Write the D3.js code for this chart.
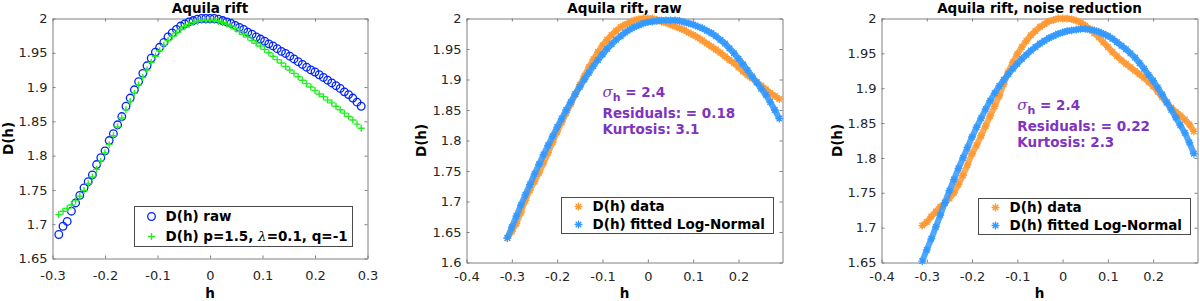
<!DOCTYPE html>
<html lang="en">
<head>
  <meta charset="utf-8">
  <title>Aquila rift D(h)</title>
  <script src="https://d3js.org/d3.v7.min.js"></script>
  <style>
    body { margin: 0; background: #fff; }
    svg text { font-family: "DejaVu Sans", sans-serif; }
    .axis path, .axis line { stroke: #808080; stroke-width: 1; }
    .axis text { font-size: 13px; fill: #262626; font-family: "DejaVu Sans", sans-serif; }
    .title, .axis-title, .legend-text { font-size: 13.5px; font-weight: bold; fill: #000; }
    .note { font-size: 13.5px; font-weight: bold; fill: #8033bf; }
  </style>
</head>
<body>
<script>
// ---------- data ----------
// panel 1 : raw D(h) and model D(h) p=1.5, lambda=0.1, q=-1
var hRaw = [-0.288,-0.28,-0.272,-0.264,-0.256,-0.248,-0.24,-0.232,-0.224,-0.216,-0.208,-0.2,
  -0.192,-0.184,-0.176,-0.168,-0.16,-0.152,-0.144,-0.136,-0.128,-0.12,-0.112,-0.104,
  -0.096,-0.088,-0.08,-0.072,-0.064,-0.056,-0.048,-0.04,-0.032,-0.024,-0.016,-0.008,0,
  0.008,0.016,0.024,0.032,0.04,0.048,0.056,0.064,0.072,0.08,0.088,0.096,0.104,0.112,0.12,
  0.128,0.136,0.144,0.152,0.16,0.168,0.176,0.184,0.192,0.2,0.208,0.216,0.224,0.232,0.24,
  0.248,0.256,0.264,0.272,0.28,0.288];
var dRaw = [1.685,1.697,1.704,1.719,1.731,1.742,1.753,1.762,1.772,1.787,1.797,1.807,
  1.822,1.832,1.845,1.857,1.872,1.884,1.896,1.908,1.920,1.931,1.942,1.951,
  1.958,1.965,1.973,1.979,1.984,1.989,1.992,1.995,1.997,1.999,2.000,2.000,2.000,
  2.000,1.999,1.997,1.995,1.993,1.990,1.987,1.984,1.980,1.977,1.973,1.970,1.967,1.963,1.960,
  1.956,1.952,1.949,1.945,1.941,1.937,1.933,1.929,1.925,1.922,1.918,1.914,1.910,1.906,1.902,
  1.898,1.893,1.889,1.884,1.878,1.872];
var dModel = [1.714,1.719,1.723,1.728,1.734,1.741,1.749,1.759,1.769,1.780,1.792,1.804,
  1.816,1.829,1.842,1.855,1.867,1.879,1.891,1.903,1.914,1.925,1.936,1.945,
  1.953,1.961,1.968,1.974,1.979,1.984,1.988,1.991,1.994,1.996,1.997,1.997,1.997,
  1.997,1.996,1.994,1.992,1.989,1.985,1.981,1.977,1.973,1.968,1.964,1.960,1.955,1.950,1.945,
  1.940,1.935,1.930,1.925,1.920,1.915,1.910,1.905,1.900,1.895,1.890,1.886,1.881,1.877,1.872,
  1.867,1.862,1.857,1.852,1.846,1.840];

// panels 2 and 3 : h grid shared by data and fitted log-normal
var hFit = [-0.31,-0.3,-0.29,-0.28,-0.27,-0.26,-0.25,-0.24,-0.23,-0.22,-0.21,-0.2,-0.19,-0.18,
  -0.17,-0.16,-0.15,-0.14,-0.13,-0.12,-0.11,-0.1,-0.09,-0.08,-0.07,-0.06,-0.05,-0.04,-0.03,
  -0.02,-0.01,0,0.01,0.02,0.03,0.04,0.05,0.06,0.07,0.08,0.09,0.1,0.11,0.12,0.13,0.14,0.15,
  0.16,0.17,0.18,0.19,0.2,0.21,0.22,0.23,0.24,0.25,0.26,0.27,0.28,0.29];
var dDataRaw = [1.640,1.651,1.664,1.682,1.702,1.719,1.733,1.747,1.763,1.780,
  1.797,1.814,1.830,1.845,1.860,1.876,1.891,1.906,1.920,1.933,
  1.945,1.956,1.965,1.973,1.980,1.986,1.990,1.994,1.997,1.999,2.000,
  2.000,2.000,1.998,1.995,1.993,1.990,1.987,1.984,1.981,1.977,
  1.973,1.969,1.964,1.959,1.954,1.949,1.944,1.938,1.932,1.927,
  1.920,1.913,1.907,1.902,1.896,1.890,1.884,1.878,1.873,1.868];
var dFitRaw = [1.640,1.658,1.676,1.694,1.711,1.728,1.745,1.761,1.777,1.792,
  1.807,1.822,1.836,1.850,1.863,1.876,1.888,1.900,1.911,1.922,
  1.932,1.941,1.950,1.958,1.965,1.971,1.977,1.982,1.986,1.989,1.992,
  1.994,1.995,1.996,1.997,1.997,1.997,1.997,1.996,1.994,1.992,
  1.990,1.987,1.984,1.980,1.976,1.971,1.965,1.959,1.951,1.943,
  1.934,1.925,1.915,1.905,1.895,1.885,1.875,1.863,1.850,1.836];
var dDataNR = [1.703,1.708,1.716,1.723,1.730,1.735,1.742,1.750,1.762,1.775,
  1.790,1.806,1.818,1.832,1.846,1.860,1.874,1.889,1.906,1.923,
  1.937,1.949,1.959,1.968,1.976,1.982,1.988,1.992,1.996,1.998,2.000,
  2.000,2.000,1.999,1.997,1.994,1.990,1.985,1.979,1.973,1.966,
  1.959,1.952,1.946,1.940,1.935,1.930,1.925,1.920,1.915,1.909,
  1.903,1.895,1.887,1.879,1.872,1.866,1.861,1.855,1.848,1.838];
var dFitNR = [1.652,1.668,1.684,1.701,1.718,1.736,1.753,1.769,1.785,1.800,
  1.815,1.830,1.844,1.857,1.870,1.882,1.893,1.903,1.912,1.920,
  1.928,1.935,1.942,1.948,1.954,1.959,1.964,1.968,1.972,1.975,1.978,
  1.980,1.982,1.983,1.984,1.985,1.985,1.984,1.983,1.981,1.978,
  1.975,1.971,1.966,1.961,1.956,1.950,1.944,1.936,1.928,1.919,
  1.911,1.901,1.891,1.880,1.869,1.858,1.847,1.836,1.822,1.806];

// ticks
var xTicks1 = [-0.3,-0.2,-0.1,0,0.1,0.2,0.3];
var xLabels1 = ["-0.3","-0.2","-0.1","0","0.1","0.2","0.3"];
var xTicks23 = [-0.4,-0.3,-0.2,-0.1,0,0.1,0.2];
var xLabels23 = ["-0.4","-0.3","-0.2","-0.1","0","0.1","0.2"];
var yTicks165 = [1.65,1.7,1.75,1.8,1.85,1.9,1.95,2];
var yLabels165 = ["1.65","1.7","1.75","1.8","1.85","1.9","1.95","2"];
var yTicks16 = [1.6,1.65,1.7,1.75,1.8,1.85,1.9,1.95,2];
var yLabels16 = ["1.6","1.65","1.7","1.75","1.8","1.85","1.9","1.95","2"];

// fit statistics shown in panels 2 and 3
var statsRaw = {sigma: "2.4", residuals: "0.18", kurtosis: "3.1"};
var statsNR = {sigma: "2.4", residuals: "0.22", kurtosis: "2.3"};

var orange = "#ff9933", skyblue = "#3399ff";

var panels = [
  { title: "Aquila rift", box: [52.5, 18.5, 367.5, 258.5],
    xDomain: [-0.3, 0.3], yDomain: [1.65, 2], xTicks: xTicks1, xLabels: xLabels1,
    yTicks: yTicks165, yLabels: yLabels165, xPad: 12, yLabelX: 8,
    series: [
      { h: hRaw, d: dRaw, marker: "o", color: "#0022ff", name: "D(h) raw" },
      { h: hRaw, d: dModel, marker: "+", color: "#22ee22", name: "model" }
    ],
    legend: [134.5, 206.5, 352.5, 246.5] },
  { title: "Aquila rift, raw", box: [466.5, 18.5, 782.5, 262.5],
    xDomain: [-0.4, 0.297], yDomain: [1.6, 2], xTicks: xTicks23, xLabels: xLabels23,
    yTicks: yTicks16, yLabels: yLabels16, xPad: 9, yLabelX: 421,
    series: [
      { h: hFit, d: dDataRaw, marker: "*", color: orange, name: "D(h) data" },
      { h: hFit, d: dFitRaw, marker: "*", color: skyblue, name: "D(h) fitted Log-Normal" }
    ],
    legend: [561.5, 197.5, 773.5, 233.5], stats: statsRaw },
  { title: "Aquila rift, noise reduction", box: [881.5, 18.5, 1197.5, 262.5],
    xDomain: [-0.4, 0.298], yDomain: [1.65, 2], xTicks: xTicks23, xLabels: xLabels23,
    yTicks: yTicks165, yLabels: yLabels165, xPad: 9, yLabelX: 837,
    series: [
      { h: hFit, d: dDataNR, marker: "*", color: orange, name: "D(h) data" },
      { h: hFit, d: dFitNR, marker: "*", color: skyblue, name: "D(h) fitted Log-Normal" }
    ],
    legend: [978.5, 198.5, 1190.5, 234.5], stats: statsNR }
];

// ---------- drawing ----------
var svg = d3.select("body").append("svg")
  .attr("width", 1200).attr("height", 301);

function starPath(r) {
  var a = r * 0.72;
  return "M" + (-r) + ",0H" + r + "M0," + (-r) + "V" + r +
    "M" + (-a) + "," + (-a) + "L" + a + "," + a +
    "M" + (-a) + "," + a + "L" + a + "," + (-a);
}
function plusPath(r) {
  return "M" + (-r) + ",0H" + r + "M0," + (-r) + "V" + r;
}

function marker(g, type, color, x, y) {
  if (type == "o") {
    g.append("circle").attr("cx", x).attr("cy", y).attr("r", 3.8)
      .attr("fill", "none").attr("stroke", color).attr("stroke-width", 1.3);
  } else if (type == "+") {
    g.append("path").attr("d", plusPath(3.5))
      .attr("transform", "translate(" + x + "," + y + ")")
      .attr("stroke", color).attr("stroke-width", 1.4).attr("fill", "none");
  } else {
    g.append("path").attr("d", starPath(3.9))
      .attr("transform", "translate(" + x + "," + y + ")")
      .attr("stroke", color).attr("stroke-width", 1.3).attr("fill", "none");
  }
}

panels.forEach(function(p) {
  var b = p.box;
  var x = d3.scaleLinear().domain(p.xDomain).range([b[0], b[2]]);
  var y = d3.scaleLinear().domain(p.yDomain).range([b[3], b[1]]);
  var g = svg.append("g");

  // axes with inward ticks on all four sides
  g.append("g").attr("class", "axis").attr("transform", "translate(0," + b[3] + ")")
    .call(d3.axisBottom(x).tickValues(p.xTicks)
      .tickFormat(function(d, i) { return p.xLabels[i]; })
      .tickSizeInner(-3).tickSizeOuter(0).tickPadding(p.xPad));
  g.append("g").attr("class", "axis").attr("transform", "translate(0," + b[1] + ")")
    .call(d3.axisTop(x).tickValues(p.xTicks).tickFormat("")
      .tickSizeInner(-3).tickSizeOuter(0));
  g.append("g").attr("class", "axis").attr("transform", "translate(" + b[0] + ",0)")
    .call(d3.axisLeft(y).tickValues(p.yTicks)
      .tickFormat(function(d, i) { return p.yLabels[i]; })
      .tickSizeInner(-3).tickSizeOuter(0).tickPadding(5));
  g.append("g").attr("class", "axis").attr("transform", "translate(" + b[2] + ",0)")
    .call(d3.axisRight(y).tickValues(p.yTicks).tickFormat("")
      .tickSizeInner(-3).tickSizeOuter(0));

  // series
  p.series.forEach(function(s) {
    var sg = g.append("g");
    if (s.marker == "*") {
      var line = d3.line()
        .x(function(d, i) { return x(s.h[i]); })
        .y(function(d) { return y(d); });
      sg.append("path").datum(s.d).attr("d", line)
        .attr("fill", "none").attr("stroke", s.color)
        .attr("stroke-width", 6).attr("stroke-opacity", 0.85);
    }
    s.d.forEach(function(d, i) {
      marker(sg, s.marker, s.color, x(s.h[i]), y(d));
    });
  });

  // titles and axis labels
  svg.append("text").attr("class", "title")
    .attr("x", (b[0] + b[2]) / 2).attr("y", 12.5)
    .attr("text-anchor", "middle").text(p.title);
  svg.append("text").attr("class", "axis-title")
    .attr("x", (b[0] + b[2]) / 2).attr("y", 298)
    .attr("text-anchor", "middle").text("h");
  svg.append("text").attr("class", "axis-title")
    .attr("transform", "translate(" + p.yLabelX + "," + ((b[1] + b[3]) / 2) + ") rotate(-90)")
    .attr("text-anchor", "middle").attr("dy", "0.36em").text("D(h)");

  // legend
  var L = p.legend;
  svg.append("rect").attr("x", L[0]).attr("y", L[1])
    .attr("width", L[2] - L[0]).attr("height", L[3] - L[1])
    .attr("fill", "#fff").attr("stroke", "#4a4a4a").attr("stroke-width", 1);
  var rowH = (L[3] - L[1]) / 2;
  p.series.forEach(function(s, i) {
    var cy = L[1] + rowH * (i + 0.5);
    marker(svg, s.marker, s.color, L[0] + 17, cy);
    var t = svg.append("text").attr("class", "legend-text")
      .attr("x", L[0] + 31).attr("y", cy).attr("dy", "0.36em");
    if (s.name == "model") {
      t.append("tspan").text("D(h) p=1.5, ");
      t.append("tspan").attr("font-family", "DejaVu Serif").attr("font-style", "italic")
        .attr("font-weight", "normal").text("λ");
      t.append("tspan").text("=0.1, q=-1");
    } else {
      t.text(s.name);
    }
  });

  // fit statistics
  if (p.stats) {
    var tx = x(-0.1), ty = y(1.85);
    var t1 = svg.append("text").attr("class", "note").attr("x", tx).attr("y", ty - 13.5);
    t1.append("tspan").attr("font-family", "DejaVu Serif").attr("font-style", "italic")
      .attr("font-weight", "normal").attr("font-size", "15px").text("σ");
    t1.append("tspan").attr("dy", 4).attr("font-size", "11px").text("h");
    t1.append("tspan").attr("dy", -4).text(" = " + p.stats.sigma);
    svg.append("text").attr("class", "note").attr("x", tx).attr("y", ty + 8)
      .text("Residuals: = " + p.stats.residuals);
    svg.append("text").attr("class", "note").attr("x", tx).attr("y", ty + 23.5)
      .text("Kurtosis: " + p.stats.kurtosis);
  }
});
</script>
</body>
</html>
